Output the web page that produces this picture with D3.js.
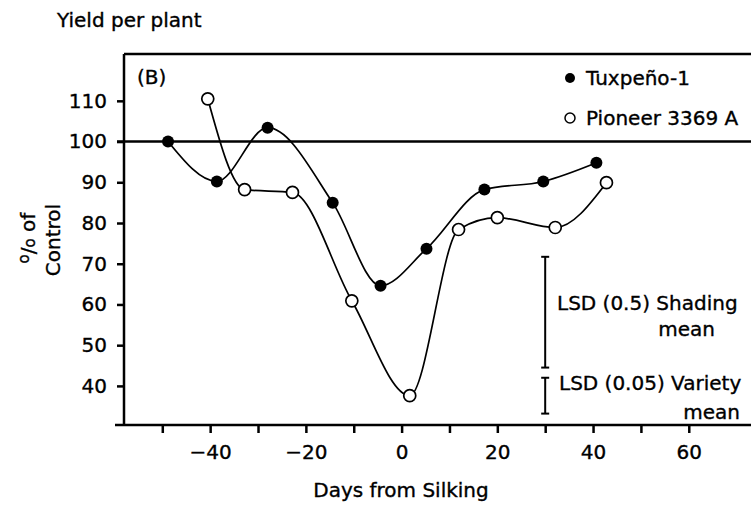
<!DOCTYPE html>
<html>
<head>
<meta charset="utf-8">
<script src="https://cdn.jsdelivr.net/npm/d3@7"></script>
<style>
  body { margin: 0; background: #fff; }
  text { font-family: "DejaVu Sans", sans-serif; font-size: 20px; fill: #000; stroke: #000; stroke-width: 0.35px; }
</style>
</head>
<body>
<script>
// Values
var tuxDays = [-48.8, -38.6, -28, -14.4, -4.4, 5.2, 17.3, 29.6, 40.7];
var tuxYield = [100, 90.2, 103.4, 85, 64.6, 73.7, 88.2, 90.2, 94.8];
var pioDays = [-40.5, -32.8, -22.8, -10.4, 1.7, 11.9, 20, 32.1, 42.8];
var pioYield = [110.5, 88.2, 87.5, 60.9, 37.6, 78.4, 81.3, 78.9, 89.9];

var yTicks = [40, 50, 60, 70, 80, 90, 100, 110];
var xTicks = [-50, -40, -30, -20, -10, 0, 10, 20, 30, 40, 50, 60];
var xLabels = [-40, -20, 0, 20, 40, 60];

// LSD bars: day position, low, high
var lsdShading = [30, 44.5, 71.7];
var lsdVariety = [30, 33.2, 42];

var controlLevel = 100;

// Define margins
var margin = {top: 54, right: 0, bottom: 81, left: 124};
var outer_width = 751;
var outer_height = 506;
var w = outer_width - margin.left - margin.right;
var h = outer_height - margin.top - margin.bottom;

var svg = d3.select("body")
	.append("svg")
	.attr("width", outer_width)
	.attr("height", outer_height);

var g = svg.append("g")
	.attr("transform", "translate(" + margin.left + "," + margin.top + ")");

var xScale = d3.scaleLinear().domain([-58, 73]).range([0, w]);
var yScale = d3.scaleLinear().domain([30.4, 121.5]).range([h, 0]);

// y axis
var yAxis = d3.axisLeft(yScale)
	.tickValues(yTicks)
	.tickSize(7)
	.tickSizeOuter(0)
	.tickPadding(10);
var yg = g.append("g").call(yAxis);
yg.select(".domain").remove();
yg.selectAll("line").attr("stroke", "#000").attr("stroke-width", 2.5);
yg.selectAll("text").style("font-size", "20px").style("font-family", "DejaVu Sans");

// x axis
var xAxis = d3.axisBottom(xScale)
	.tickValues(xTicks)
	.tickSize(8)
	.tickSizeOuter(0)
	.tickPadding(12)
	.tickFormat(function(d) { return xLabels.indexOf(d) >= 0 ? d3.format("")(d) : ""; });
var xg = g.append("g")
	.attr("transform", "translate(0," + h + ")")
	.call(xAxis);
xg.select(".domain").remove();
xg.selectAll("line").attr("stroke", "#000").attr("stroke-width", 2.5);
xg.selectAll("text").style("font-size", "20px").style("font-family", "DejaVu Sans");

// frame lines
g.append("line").attr("x1", -9).attr("x2", w).attr("y1", h).attr("y2", h)
	.attr("stroke", "#000").attr("stroke-width", 2.5);
g.append("line").attr("x1", 0).attr("x2", 0).attr("y1", 0).attr("y2", h)
	.attr("stroke", "#000").attr("stroke-width", 2.5);
g.append("line").attr("x1", 0).attr("x2", w).attr("y1", 0).attr("y2", 0)
	.attr("stroke", "#000").attr("stroke-width", 2.5);

// 100% control line
g.append("line")
	.attr("x1", -7).attr("x2", w)
	.attr("y1", yScale(controlLevel)).attr("y2", yScale(controlLevel))
	.attr("stroke", "#000").attr("stroke-width", 2.5);

// series
var tux = tuxDays.map(function(d, i) { return {x: d, y: tuxYield[i]}; });
var pio = pioDays.map(function(d, i) { return {x: d, y: pioYield[i]}; });

var line = d3.line()
	.x(function(d) { return xScale(d.x); })
	.y(function(d) { return yScale(d.y); })
	.curve(d3.curveMonotoneX);

[tux, pio].forEach(function(s) {
	g.append("path").datum(s)
		.attr("d", line)
		.attr("fill", "none")
		.attr("stroke", "#000")
		.attr("stroke-width", 1.7);
});

g.selectAll("circle.tux").data(tux).enter().append("circle")
	.attr("class", "tux")
	.attr("cx", function(d) { return xScale(d.x); })
	.attr("cy", function(d) { return yScale(d.y); })
	.attr("r", 6)
	.attr("fill", "#000");

g.selectAll("circle.pio").data(pio).enter().append("circle")
	.attr("class", "pio")
	.attr("cx", function(d) { return xScale(d.x); })
	.attr("cy", function(d) { return yScale(d.y); })
	.attr("r", 6)
	.attr("fill", "#fff")
	.attr("stroke", "#000")
	.attr("stroke-width", 1.7);

// LSD bars
[lsdShading, lsdVariety].forEach(function(b) {
	var bx = xScale(b[0]);
	g.append("line").attr("x1", bx).attr("x2", bx)
		.attr("y1", yScale(b[1])).attr("y2", yScale(b[2]))
		.attr("stroke", "#000").attr("stroke-width", 2);
	[b[1], b[2]].forEach(function(v) {
		g.append("line").attr("x1", bx - 4).attr("x2", bx + 4)
			.attr("y1", yScale(v)).attr("y2", yScale(v))
			.attr("stroke", "#000").attr("stroke-width", 2);
	});
});

// LSD texts
svg.append("text").attr("x", 557).attr("y", 310).text("LSD (0.5) Shading");
svg.append("text").attr("x", 715).attr("y", 336).attr("text-anchor", "end").text("mean");
svg.append("text").attr("x", 559).attr("y", 390).text("LSD (0.05) Variety");
svg.append("text").attr("x", 740).attr("y", 419).attr("text-anchor", "end").text("mean");

// legend
svg.append("circle").attr("cx", 570).attr("cy", 78).attr("r", 5).attr("fill", "#000");
svg.append("text").attr("x", 586).attr("y", 85).text("Tuxpeño-1");
svg.append("circle").attr("cx", 570).attr("cy", 118).attr("r", 5)
	.attr("fill", "#fff").attr("stroke", "#000").attr("stroke-width", 1.5);
svg.append("text").attr("x", 586).attr("y", 125).text("Pioneer 3369 A");

// panel label and titles
svg.append("text").attr("x", 137).attr("y", 84).text("(B)");
svg.append("text").attr("x", 57).attr("y", 27).text("Yield per plant");
svg.append("text").attr("x", 401).attr("y", 497).attr("text-anchor", "middle").text("Days from Silking");

// y label, rotated, two lines
var yl = svg.append("text")
	.attr("transform", "translate(35,238) rotate(-90)")
	.attr("text-anchor", "middle");
yl.append("tspan").style("font-size", "15px").attr("dy", -6).text("o");
yl.append("tspan").attr("dy", 6).text("/");
yl.append("tspan").style("font-size", "15px").text("o");
yl.append("tspan").text(" of");
svg.append("text")
	.attr("transform", "translate(60,240) rotate(-90)")
	.attr("text-anchor", "middle")
	.text("Control");
</script>
</body>
</html>
